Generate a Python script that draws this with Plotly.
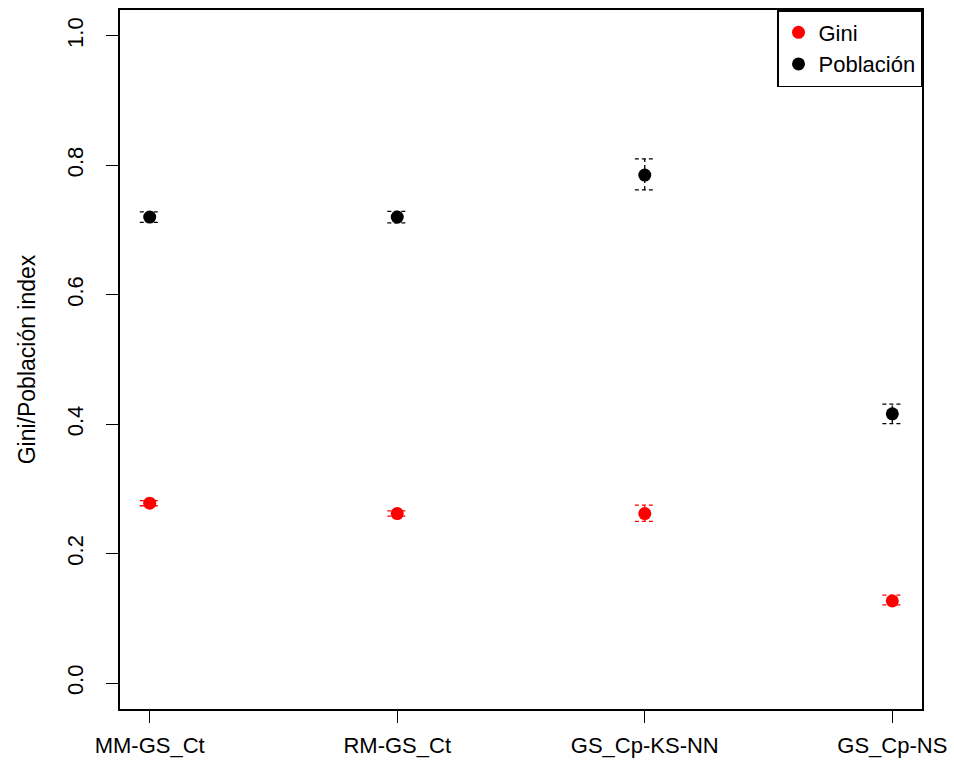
import plotly.graph_objects as go

categories = ["MM-GS_Ct", "RM-GS_Ct", "GS_Cp-KS-NN", "GS_Cp-NS"]
x_pos = [1, 2, 3, 4]

gini = [0.278, 0.262, 0.262, 0.127]
gini_lo = [0.274, 0.258, 0.250, 0.121]
gini_hi = [0.282, 0.266, 0.275, 0.136]

pob = [0.720, 0.720, 0.785, 0.416]
pob_lo = [0.712, 0.711, 0.762, 0.401]
pob_hi = [0.728, 0.729, 0.810, 0.431]

y_ticks = [0.0, 0.2, 0.4, 0.6, 0.8, 1.0]

FONT = "Liberation Sans, Arial, Helvetica, sans-serif"
CAP = 0.04
DASH = "4px,3px"

fig = go.Figure()


def add_series(name, vals, lo, hi, color):
    vx, vy = [], []
    for xi, l, h in zip(x_pos, lo, hi):
        vx += [xi, xi, None]
        vy += [l, h, None]
    fig.add_trace(go.Scatter(x=vx, y=vy, mode="lines", showlegend=False, hoverinfo="skip",
                             line=dict(color=color, width=1.3, dash=DASH)))
    cx, cy = [], []
    for xi, l, h in zip(x_pos, lo, hi):
        cx += [xi - CAP, xi + CAP, None, xi - CAP, xi + CAP, None]
        cy += [l, l, None, h, h, None]
    fig.add_trace(go.Scatter(x=cx, y=cy, mode="lines", showlegend=False, hoverinfo="skip",
                             line=dict(color=color, width=1.3, dash=DASH)))
    fig.add_trace(go.Scatter(x=x_pos, y=vals, mode="markers", name=name,
                             marker=dict(color=color, size=13)))


add_series("Gini", gini, gini_lo, gini_hi, "#ff0000")
add_series("Población", pob, pob_lo, pob_hi, "#000000")

fig.update_layout(
    width=954, height=765,
    margin=dict(l=120, r=32, t=10, b=56),
    paper_bgcolor="white", plot_bgcolor="white",
    font=dict(family=FONT, color="black"),
    legend=dict(x=1, y=1, xanchor="right", yanchor="top",
                bordercolor="black", borderwidth=1.5, bgcolor="white",
                font=dict(size=22, family=FONT)),
    xaxis=dict(range=[0.88, 4.12], tickvals=x_pos, ticktext=categories,
               automargin=False,
               showgrid=False, zeroline=False, showline=True, mirror=True,
               linecolor="black", linewidth=1.5, ticks="outside", ticklen=12,
               tickcolor="black", tickwidth=1, tickfont=dict(size=22),
               ticklabelstandoff=4),
    yaxis=dict(range=[-0.04, 1.04], tickvals=y_ticks,
               ticktext=[f"{v:.1f}" for v in y_ticks],
               automargin=False,
               showgrid=False, zeroline=False, showline=True, mirror=True,
               linecolor="black", linewidth=1.5, ticks="outside", ticklen=12,
               tickcolor="black", tickwidth=1, tickangle=-90,
               tickfont=dict(size=22), ticklabelstandoff=14,
               title=dict(text="Gini/Población index", font=dict(size=23), standoff=21)),
)

fig.write_html("out.html")
